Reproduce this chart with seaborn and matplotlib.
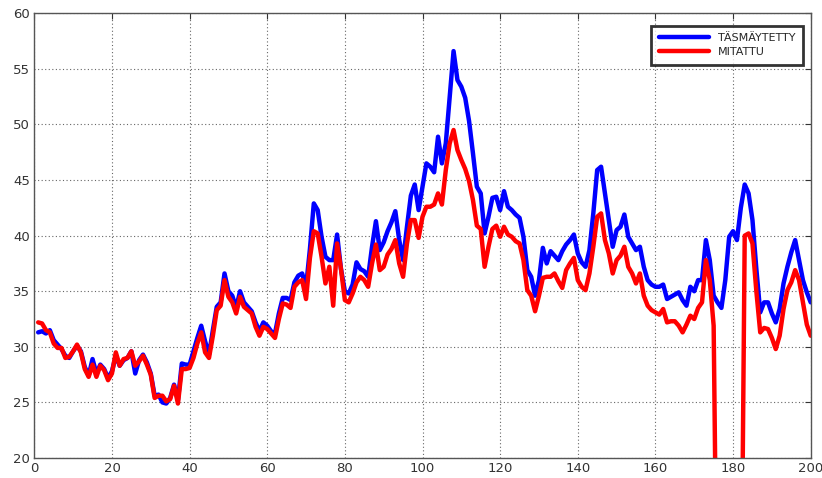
import numpy as np
import pandas as pd
import matplotlib
matplotlib.use("Agg")
import matplotlib.pyplot as plt
import seaborn as sns

# Sample index 1..200
sample = list(range(1, 201))

tasmaytetty = [
    31.3, 31.4, 31.2, 31.5, 30.6, 30.2, 29.8, 29.2, 29.0, 29.6,
    30.1, 29.6, 28.2, 27.4, 28.9, 27.6, 28.4, 28.0, 27.2, 27.8,
    29.2, 28.3, 28.8, 29.0, 29.6, 27.6, 28.8, 29.3, 28.6, 27.6,
    25.6, 25.7, 25.0, 24.9, 25.4, 26.6, 25.2, 28.5, 28.4, 28.4,
    29.6, 30.8, 31.9, 30.5, 29.3, 31.5, 33.6, 34.0, 36.6, 35.0,
    34.6, 33.5, 35.0, 34.0, 33.6, 33.2, 32.2, 31.4, 32.2, 31.9,
    31.4, 31.2, 33.0, 34.4, 34.4, 34.2, 35.8, 36.4, 36.6, 35.4,
    38.8, 42.9, 42.3, 39.9, 38.1, 37.8, 37.8, 40.1, 37.0, 35.0,
    34.8, 35.6, 37.6, 37.0, 36.8, 36.3, 39.0, 41.3, 38.7, 39.4,
    40.4, 41.2, 42.2, 39.6, 37.8, 40.8, 43.6, 44.6, 42.3, 44.4,
    46.5, 46.2, 45.7, 48.9, 46.5, 48.3, 52.5, 56.6, 54.0, 53.4,
    52.4, 50.3, 47.4, 44.4, 43.8, 40.2, 41.7, 43.4, 43.5, 42.3,
    44.0, 42.6, 42.3, 41.9, 41.6, 39.9, 36.9, 36.3, 34.6, 36.0,
    38.9, 37.5, 38.6, 38.2, 37.8, 38.6, 39.2, 39.6, 40.1, 38.4,
    37.6, 37.2, 38.7, 42.0, 45.9, 46.2, 43.8, 41.4, 39.0, 40.5,
    40.8, 41.9, 39.9, 39.3, 38.7, 39.0, 37.2, 36.0, 35.6, 35.4,
    35.4, 35.6, 34.3, 34.5, 34.7, 34.9, 34.2, 33.7, 35.4, 35.0,
    36.0, 36.0, 39.6, 37.8, 34.6, 34.0, 33.5, 36.0, 39.9, 40.4,
    39.6, 42.5, 44.6, 43.8, 41.4, 37.0, 33.1, 34.0, 34.0, 33.0,
    32.2, 33.4, 35.7, 37.2, 38.5, 39.6, 37.8, 36.0, 34.9, 34.0,
]

mitattu = [
    32.2, 32.1, 31.5, 31.3, 30.3, 29.9, 29.9, 29.0, 29.1, 29.6,
    30.2, 29.5, 28.0, 27.3, 28.4, 27.3, 28.3, 27.9, 27.0, 27.6,
    29.5, 28.3, 28.9, 29.0, 29.6, 28.3, 28.7, 29.2, 28.4, 27.5,
    25.4, 25.6, 25.6, 25.1, 25.3, 26.5, 24.9, 28.0, 28.0, 28.1,
    29.0, 30.3, 31.3, 29.5, 29.0, 31.0, 33.3, 33.7, 36.0, 34.5,
    34.0, 33.0, 34.5, 33.6, 33.3, 33.0, 31.8, 31.0, 31.8, 31.6,
    31.2, 30.8, 32.5, 33.9, 33.8, 33.5, 35.4, 35.8, 36.0, 34.3,
    38.0, 40.4, 40.2, 38.1, 35.7, 37.2, 33.7, 39.3, 37.0, 34.2,
    34.0, 34.8, 35.8, 36.3, 36.0, 35.4, 37.5, 39.2, 36.9, 37.2,
    38.3, 38.8, 39.6, 37.5, 36.3, 39.3, 41.4, 41.4, 39.8, 41.7,
    42.6, 42.6, 42.8, 43.8, 42.8, 45.9, 48.3, 49.5, 47.7, 46.8,
    46.0, 44.9, 43.2, 40.9, 40.6, 37.2, 39.0, 40.6, 40.9, 39.9,
    40.8, 40.1, 39.9, 39.5, 39.3, 37.8, 35.1, 34.6, 33.2, 34.6,
    36.2, 36.3, 36.3, 36.6, 35.9, 35.3, 36.9, 37.5, 38.0, 36.0,
    35.4, 35.1, 36.6, 39.0, 41.7, 42.0, 39.6, 38.4, 36.6, 37.8,
    38.2, 39.0, 37.2, 36.6, 35.7, 36.6, 34.6, 33.7, 33.3, 33.1,
    32.9, 33.4, 32.2, 32.3, 32.3, 31.9, 31.3, 32.0, 32.8, 32.5,
    33.5, 34.0, 37.8, 36.0, 31.9, 0.0, 0.0, 0.0, 0.0, 0.0,
    0.0, 0.0, 40.0, 40.2, 39.3, 35.0, 31.3, 31.7, 31.6, 30.8,
    29.8, 31.0, 33.4, 35.1, 35.8, 36.9, 36.0, 34.0, 32.0, 31.0,
]

series_names = ["TÄSMÄYTETTY", "MITATTU"]
x_ticks = [0, 20, 40, 60, 80, 100, 120, 140, 160, 180, 200]
y_ticks = [20, 25, 30, 35, 40, 45, 50, 55, 60]

df = pd.concat([
    pd.DataFrame({"n": sample, "value": tasmaytetty, "series": series_names[0]}),
    pd.DataFrame({"n": sample, "value": mitattu, "series": series_names[1]}),
])

sns.set_theme(style="white")
plt.rcParams["font.family"] = ["DejaVu Sans"]

fig = plt.figure(figsize=(8.22, 4.78), dpi=100)
ax = fig.add_axes([34.3 / 822, 20 / 478, 776.4 / 822, 444.7 / 478])

sns.lineplot(
    data=df, x="n", y="value", hue="series", hue_order=series_names,
    palette={series_names[0]: "#0000ff", series_names[1]: "#ff0000"},
    linewidth=3.2, ax=ax, estimator=None, sort=False,
)

ax.set_xlim(0, 200)
ax.set_ylim(20, 60)
ax.set_xticks(x_ticks)
ax.set_yticks(y_ticks)
ax.set_xlabel("")
ax.set_ylabel("")
ax.grid(True, linestyle=(0, (1, 2.2)), color="#666666", linewidth=0.8)
ax.tick_params(direction="in", length=4, width=0.8, top=True, right=True,
               labelsize=9.5, labelcolor="#333333", color="#333333", pad=3)
for side in ax.spines.values():
    side.set_color("#555555")
    side.set_linewidth(1.0)

leg = ax.legend(loc="upper right", fontsize=8, frameon=True, fancybox=False,
                handlelength=4.5, borderpad=0.7, labelspacing=0.35,
                bbox_to_anchor=(0.997, 0.985))
leg.get_frame().set_edgecolor("black")
leg.get_frame().set_linewidth(2.0)
for line in leg.get_lines():
    line.set_linewidth(3.2)

fig.savefig("out.png", dpi=100)
